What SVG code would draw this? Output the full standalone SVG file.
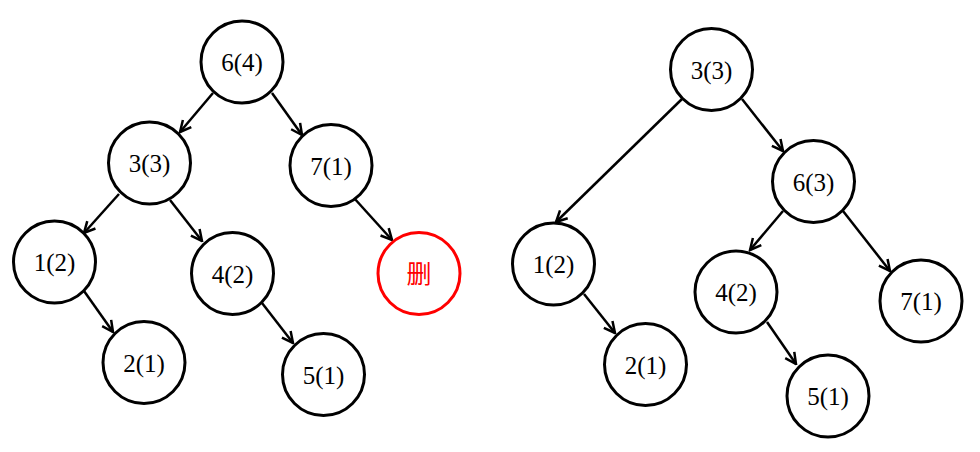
<svg xmlns="http://www.w3.org/2000/svg" width="980" height="452" viewBox="0 0 980 452">
<style>
  .n circle { fill: #fff; stroke: #000; stroke-width: 3; }
  .n text { font-family: "Liberation Serif", "Times New Roman", serif; font-size: 25px; text-anchor: middle; fill: #000; }
  .n.del circle { stroke: #ff0000; }
  .n.del text { font-family: "Liberation Serif", "Noto Sans CJK SC", sans-serif; font-size: 25px; fill: #ff0000; }
  .e line { stroke: #000; stroke-width: 2.5; marker-end: url(#arr); }
</style>
<defs>
  <marker id="arr" viewBox="0 0 14 14" refX="12.5" refY="7" markerWidth="14" markerHeight="14" markerUnits="userSpaceOnUse" orient="auto">
    <path d="M1.5,1.5 L12.5,7 L1.5,12.5" fill="none" stroke="#000" stroke-width="2.5" stroke-linejoin="miter"/>
  </marker>
</defs>
<rect width="980" height="452" fill="#fff"/>
<g id="connectors" class="e">
  <line x1="213" y1="93" x2="180" y2="132"/>
  <line x1="272" y1="93" x2="302" y2="135"/>
  <line x1="119" y1="194" x2="84" y2="233"/>
  <line x1="170" y1="200" x2="202" y2="241"/>
  <line x1="354" y1="198" x2="392" y2="240"/>
  <line x1="84" y1="291" x2="113" y2="332"/>
  <line x1="262" y1="303" x2="293" y2="343"/>
  <line x1="682" y1="99" x2="556" y2="222"/>
  <line x1="742" y1="99" x2="783" y2="151"/>
  <line x1="783" y1="211" x2="750" y2="250"/>
  <line x1="843" y1="211" x2="890" y2="271"/>
  <line x1="584" y1="294" x2="615" y2="333"/>
  <line x1="767" y1="322" x2="796" y2="364"/>
</g>
<g id="L6" class="n"><circle cx="242" cy="62" r="41"/><text x="242" y="71">6(4)</text></g>
<g id="L3" class="n"><circle cx="149.5" cy="163" r="41"/><text x="149.5" y="172">3(3)</text></g>
<g id="L7" class="n"><circle cx="331" cy="165.5" r="41"/><text x="331" y="174.5">7(1)</text></g>
<g id="L1" class="n"><circle cx="54.5" cy="262" r="41"/><text x="54.5" y="271">1(2)</text></g>
<g id="L4" class="n"><circle cx="232.5" cy="273.5" r="41"/><text x="232.5" y="282.5">4(2)</text></g>
<g id="Ldel" class="n del"><circle cx="419" cy="273.5" r="41"/><text x="419" y="282.5">删</text></g>
<g id="L2" class="n"><circle cx="144" cy="362.5" r="41"/><text x="144" y="371.5">2(1)</text></g>
<g id="L5" class="n"><circle cx="323.5" cy="374.5" r="41"/><text x="323.5" y="383.5">5(1)</text></g>
<g id="R3" class="n"><circle cx="711.5" cy="69.5" r="41"/><text x="711.5" y="78.5">3(3)</text></g>
<g id="R6" class="n"><circle cx="813.5" cy="181.5" r="41"/><text x="813.5" y="190.5">6(3)</text></g>
<g id="R1" class="n"><circle cx="553.5" cy="264" r="41"/><text x="553.5" y="273">1(2)</text></g>
<g id="R4" class="n"><circle cx="736" cy="292" r="41"/><text x="736" y="301">4(2)</text></g>
<g id="R7" class="n"><circle cx="921" cy="301" r="41"/><text x="921" y="310">7(1)</text></g>
<g id="R2" class="n"><circle cx="645.5" cy="364.5" r="41"/><text x="645.5" y="373.5">2(1)</text></g>
<g id="R5" class="n"><circle cx="828" cy="396" r="41"/><text x="828" y="405">5(1)</text></g>
</svg>
